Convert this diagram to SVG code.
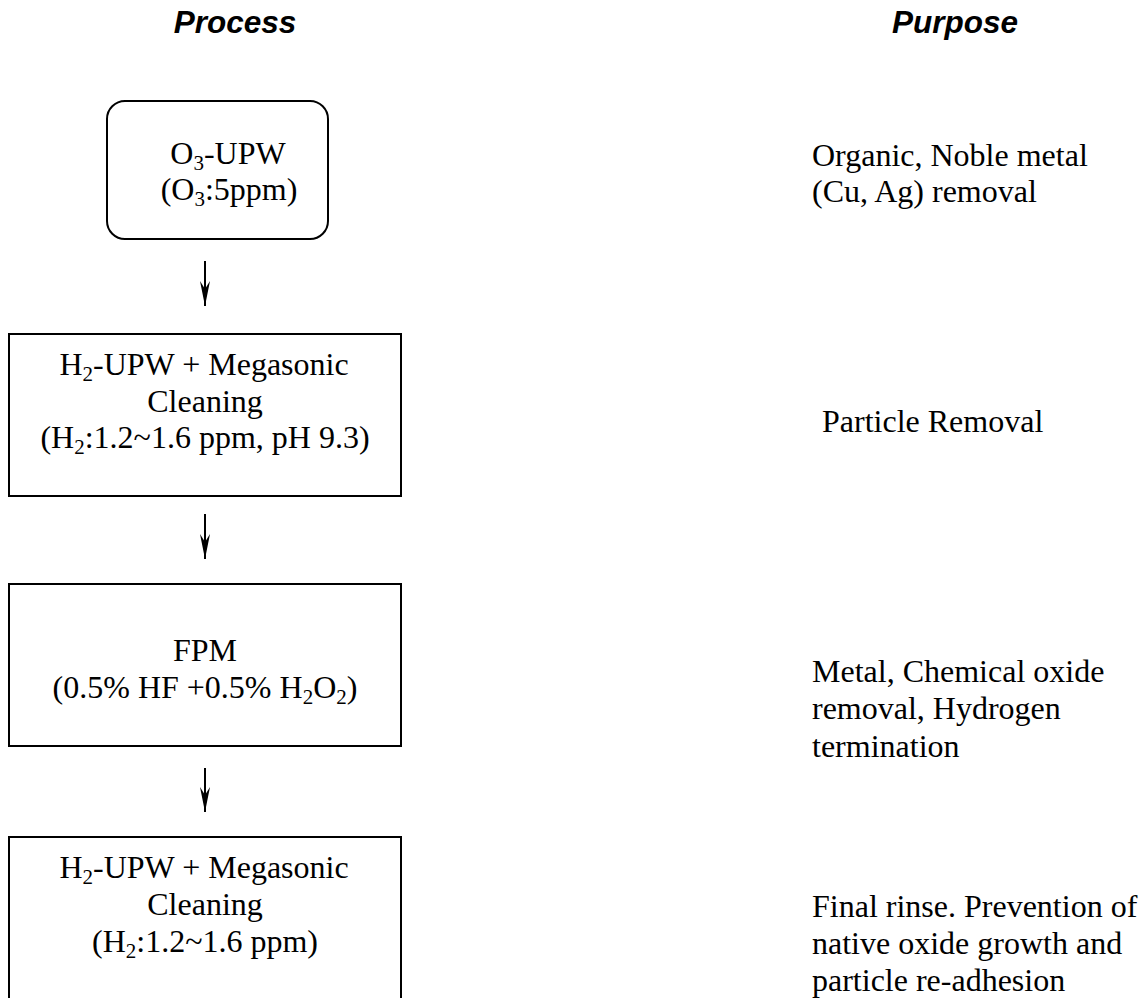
<svg xmlns="http://www.w3.org/2000/svg" width="1145" height="998" viewBox="0 0 1145 998">
<defs>
<style>
.box{fill:#fff;stroke:#000;stroke-width:2}
.t{font-family:'Liberation Serif',serif;font-size:32px;fill:#000}
.c{text-anchor:middle}
.h{font-family:'Liberation Sans',Arial,sans-serif;font-size:31.5px;font-weight:bold;font-style:italic;fill:#000;text-anchor:middle}
.sub{font-size:21px}
.conn{stroke:#000;stroke-width:2;fill:none}
</style>
<marker id="arr" viewBox="0 0 26 12" refX="25" refY="6" markerWidth="26" markerHeight="12" markerUnits="userSpaceOnUse" orient="auto">
<path d="M25,6 L0,1 L8,6 L0,11 Z" fill="#000"/>
</marker>
</defs>
<rect width="1145" height="998" fill="#fff"/>
<g id="headers">
<text class="h" x="235" y="33">Process</text>
<text class="h" x="955" y="33">Purpose</text>
</g>
<g id="connectors">
<path class="conn" d="M205,261 V306" marker-end="url(#arr)"/>
<path class="conn" d="M205,514 V559" marker-end="url(#arr)"/>
<path class="conn" d="M205,768 V812" marker-end="url(#arr)"/>
</g>
<g id="node-o3upw">
<rect class="box" x="107" y="101" width="221" height="138" rx="18" ry="18"/>
<text class="t c" x="228" y="164">O<tspan class="sub" dy="6">3</tspan><tspan dy="-6">-UPW</tspan></text>
<text class="t c" x="229" y="200">(O<tspan class="sub" dy="6">3</tspan><tspan dy="-6">:5ppm)</tspan></text>
</g>
<g id="node-h2upw1">
<rect class="box" x="9" y="334" width="392" height="162"/>
<text class="t c" x="204" y="375">H<tspan class="sub" dy="6">2</tspan><tspan dy="-6">-UPW + Megasonic</tspan></text>
<text class="t c" x="205" y="412">Cleaning</text>
<text class="t c" x="205" y="448">(H<tspan class="sub" dy="6">2</tspan><tspan dy="-6">:1.2~1.6 ppm, pH 9.3)</tspan></text>
</g>
<g id="node-fpm">
<rect class="box" x="9" y="584" width="392" height="162"/>
<text class="t c" x="205" y="661">FPM</text>
<text class="t c" x="205" y="698">(0.5% HF +0.5% H<tspan class="sub" dy="6">2</tspan><tspan dy="-6">O</tspan><tspan class="sub" dy="6">2</tspan><tspan dy="-6">)</tspan></text>
</g>
<g id="node-h2upw2">
<rect class="box" x="9" y="837" width="392" height="175"/>
<text class="t c" x="204" y="878">H<tspan class="sub" dy="6">2</tspan><tspan dy="-6">-UPW + Megasonic</tspan></text>
<text class="t c" x="205" y="915">Cleaning</text>
<text class="t c" x="205" y="952">(H<tspan class="sub" dy="6">2</tspan><tspan dy="-6">:1.2~1.6 ppm)</tspan></text>
</g>
<g id="purpose-1">
<text class="t" x="812" y="166">Organic, Noble metal</text>
<text class="t" x="812" y="202">(Cu, Ag) removal</text>
</g>
<g id="purpose-2">
<text class="t" x="822" y="432">Particle Removal</text>
</g>
<g id="purpose-3">
<text class="t" x="812" y="682">Metal, Chemical oxide</text>
<text class="t" x="812" y="719">removal, Hydrogen</text>
<text class="t" x="812" y="757">termination</text>
</g>
<g id="purpose-4">
<text class="t" x="812" y="917">Final rinse. Prevention of</text>
<text class="t" x="812" y="954">native oxide growth and</text>
<text class="t" x="812" y="991">particle re-adhesion</text>
</g>
</svg>
